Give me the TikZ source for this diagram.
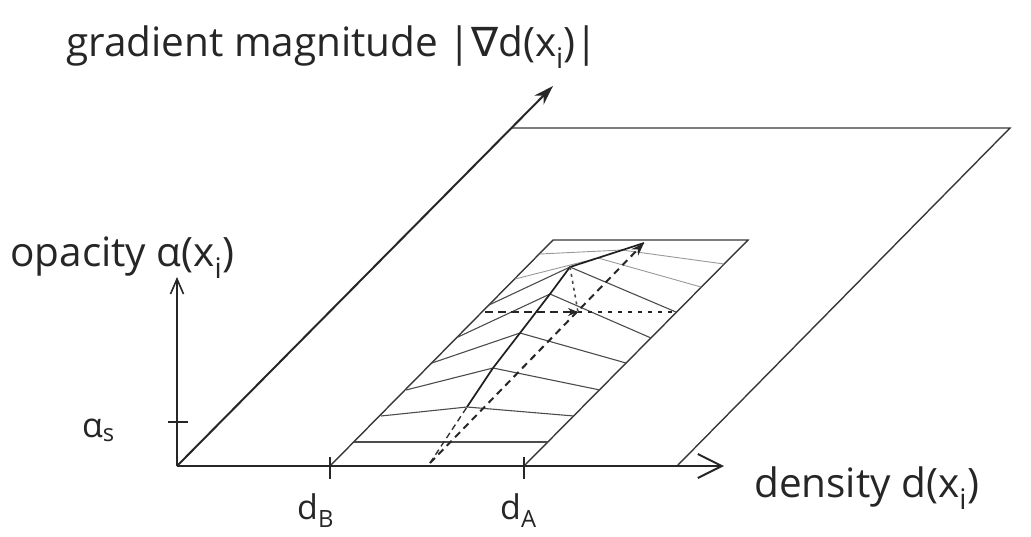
\documentclass[tikz,border=0pt]{standalone}
\usepackage{fontspec}
\setmainfont{Open Sans}
\newfontfamily\symfnt{DejaVu Sans}
\usetikzlibrary{arrows.meta}
\begin{document}
\begin{tikzpicture}[x=1pt,y=-1pt,
  axis/.style={line width=2pt,draw=black!85},
  plane/.style={line width=1.4pt,draw=black!78},
  rowline/.style={line width=1.1pt,draw=black!70,line join=round},
  faintrow/.style={line width=0.9pt,draw=black!40,line join=round},
  ridge/.style={line width=1.7pt,draw=black!88,line join=round},
  dvline/.style={line width=2pt,draw=black!85,dash pattern=on 7pt off 5pt},
  lowridge/.style={line width=1.4pt,draw=black!80,dash pattern=on 6pt off 4pt},
  hdash/.style={line width=2pt,draw=black!85,dash pattern=on 8pt off 5pt},
  hdot/.style={line width=2.4pt,draw=black!85,dash pattern=on 4pt off 6pt},
  vdot/.style={line width=1.6pt,draw=black!70,dash pattern=on 3pt off 4pt},
  lbl/.style={font=\fontsize{40.5}{44}\selectfont,text=black!85,inner sep=0pt},
  sublbl/.style={font=\fontsize{34}{38}\selectfont,text=black!85,inner sep=0pt}]
\useasboundingbox (0,0) rectangle (1031,536);

% --- coordinates ---
\coordinate (O) at (177,466);
\coordinate (Xend) at (724,466);
\coordinate (Yend) at (177,277);
\coordinate (Gend) at (553,86);
\coordinate (BP1) at (511.4,128);
\coordinate (BP2) at (1010,128);
\coordinate (BP3) at (677,466);
\coordinate (dB) at (330,466);
\coordinate (dA) at (524,466);
\coordinate (IT1) at (553,240);
\coordinate (IT2) at (748,240);
\coordinate (as1) at (168,422);
\coordinate (as2) at (188,422);
\coordinate (dBt1) at (330,457);
\coordinate (dBt2) at (330,479);
\coordinate (dAt1) at (524,457);
\coordinate (dAt2) at (524,479);
% ridge
\coordinate (V0) at (430,463);
\coordinate (Vtop) at (644,243);
\coordinate (P1) at (467,407);
\coordinate (P2) at (493,368);
\coordinate (P3) at (520,333);
\coordinate (P4) at (550,294);
\coordinate (P5) at (570,267);
\coordinate (P6) at (598,258);
\coordinate (P7) at (622,250);
% rows
\coordinate (A1) at (354,442); \coordinate (A2) at (548,442);
\coordinate (B1) at (381,416); \coordinate (B2) at (574,416);
\coordinate (C1) at (406,390); \coordinate (C2) at (600,390);
\coordinate (D1) at (432,363); \coordinate (D2) at (626,363);
\coordinate (E1) at (458,337); \coordinate (E2) at (651,338);
\coordinate (F1) at (489,305); \coordinate (F2) at (676,312);
\coordinate (G1) at (515,279); \coordinate (G2) at (701,287);
\coordinate (H1) at (540,254); \coordinate (H2) at (724,264);
% horizontal dotted line
\coordinate (HL) at (485,312);
\coordinate (HX) at (578,312);
\coordinate (HR) at (676,312);

% --- back plane (its left edge lies on the gradient axis) ---
\draw[plane] (BP1) -- (BP2) -- (BP3);
% --- inner region ---
\draw[plane] (dB) -- (IT1) -- (IT2) -- (dA);

% rows
\draw[rowline] (A1) -- (A2);
\draw[rowline] (B1) -- (P1) -- (B2);
\draw[rowline] (C1) -- (P2) -- (C2);
\draw[rowline] (D1) -- (P3) -- (D2);
\draw[rowline] (E1) -- (P4) -- (E2);
\draw[rowline] (F1) -- (P5) -- (F2);
\draw[faintrow] (G1) -- (P6) -- (G2);
\draw[faintrow] (H1) -- (P7) -- (H2);

% ridge
\draw[lowridge] (V0) -- (P1);
\draw[ridge] (P1) -- (P2) -- (P3) -- (P4) -- (P5) -- (Vtop);
% d_v line
\draw[dvline,-{Stealth[length=13pt,width=9pt]}] (V0) -- (Vtop);
% horizontal dashed / dotted
\draw[hdash,-{Stealth[length=10pt,width=8pt]}] (HL) -- (HX);
\draw[hdot] (HX) -- (HR);
\draw[vdot] (P5) -- (HX);

% --- axes ---
\draw[axis,-{Straight Barb[length=24pt,width=24pt,line width=2pt]}] (O) -- (Xend);
\draw[axis,-{Straight Barb[length=15pt,width=13pt,line width=1.6pt]}] (O) -- (Yend);
\draw[axis,-{Stealth[length=20pt,width=13pt]}] (O) -- (Gend);
\draw[axis] (as1) -- (as2);
\draw[axis] (dBt1) -- (dBt2);
\draw[axis] (dAt1) -- (dAt2);

% --- labels ---
\node[lbl,anchor=base west] (glabel) at (66,56) {gradient magnitude |{\symfnt ∇}d(x\textsubscript{i})|};
\node[lbl,anchor=base west] (olabel) at (10,266) {opacity α(x\textsubscript{i})};
\node[lbl,anchor=base west] (dlabel) at (754,497) {density d(x\textsubscript{i})};
\node[sublbl,anchor=base west] (aslabel) at (82,437) {α\textsubscript{s}};
\node[sublbl,anchor=base west] (dBlabel) at (297,519) {d\textsubscript{B}};
\node[sublbl,anchor=base west] (dAlabel) at (500,519) {d\textsubscript{A}};
\end{tikzpicture}
\end{document}
